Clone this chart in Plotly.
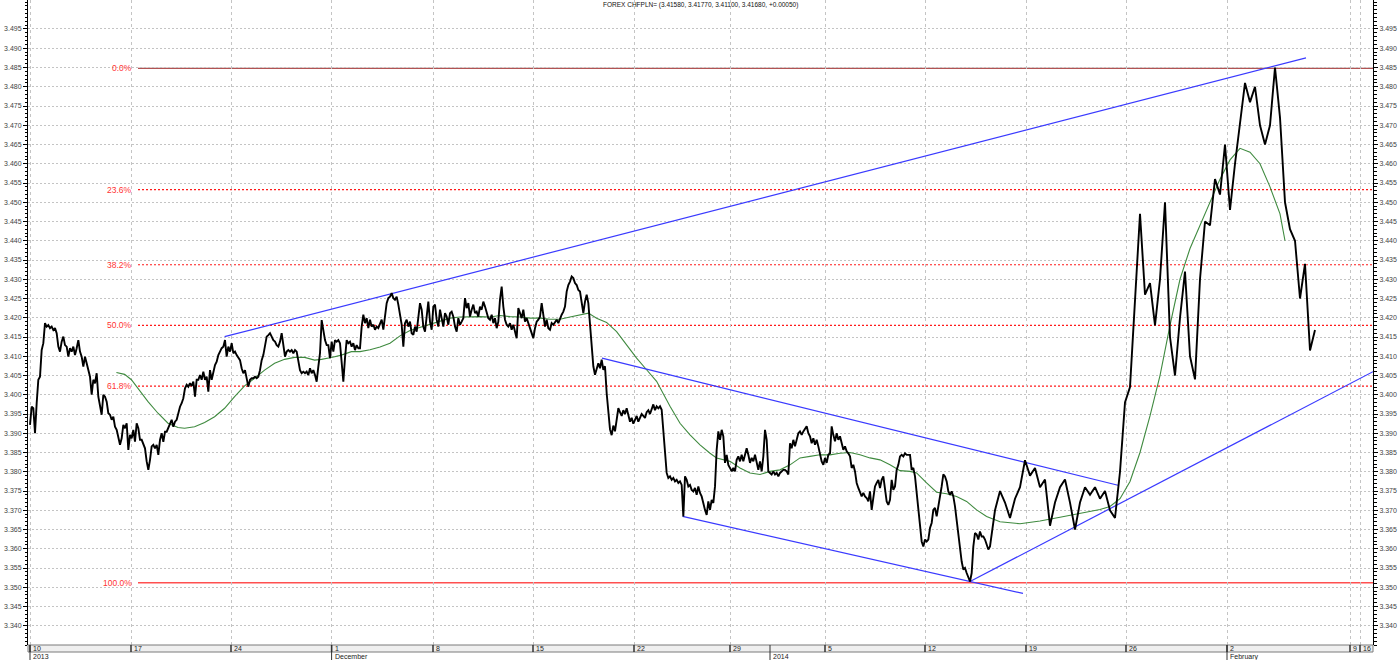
import plotly.graph_objects as go

# ---------------- data ----------------
STEP = 1 / 12  # trading days between samples
seg_a = [
    3.3922, 3.3969, 3.3965, 3.3900, 3.3978, 3.4039, 3.4047, 3.4116, 3.4134, 3.4186,
    3.4177, 3.4181, 3.4173, 3.4177, 3.4168, 3.4173, 3.4160, 3.4125, 3.4112, 3.4138,
    3.4151, 3.4129, 3.4125, 3.4099, 3.4121, 3.4112, 3.4125, 3.4103, 3.4121, 3.4142,
    3.4112, 3.4099, 3.4073, 3.4099, 3.4082, 3.4064, 3.4047, 3.4000, 3.4039, 3.4030,
    3.4056, 3.3995, 3.3974, 3.3948, 3.4000, 3.3995, 3.3982, 3.3952, 3.3948, 3.3935,
    3.3943, 3.3917, 3.3909, 3.3891, 3.3870, 3.3887, 3.3922, 3.3913, 3.3926, 3.3857,
    3.3896, 3.3887, 3.3909, 3.3878, 3.3926, 3.3913, 3.3883, 3.3883, 3.3870, 3.3861,
    3.3827, 3.3805, 3.3831, 3.3866, 3.3870, 3.3861, 3.3870, 3.3844, 3.3883, 3.3900,
    3.3878, 3.3904, 3.3904, 3.3913, 3.3926, 3.3935, 3.3917, 3.3930, 3.3935, 3.3952,
    3.3969, 3.3978, 3.3991, 3.4017, 3.4026, 3.4021, 3.4030, 3.4023, 3.4034, 3.3995,
    3.4039, 3.4039, 3.4051, 3.4039, 3.4060, 3.4039, 3.4047, 3.4008, 3.4064, 3.4039,
    3.4056, 3.4077, 3.4086, 3.4103, 3.4112, 3.4121, 3.4125, 3.4142, 3.4099, 3.4125,
    3.4112, 3.4134, 3.4108, 3.4112, 3.4103, 3.4095, 3.4090, 3.4069, 3.4056, 3.4064,
    3.4039, 3.4021, 3.4039, 3.4043, 3.4043, 3.4047, 3.4043, 3.4047, 3.4064, 3.4090,
    3.4103, 3.4134, 3.4151, 3.4155, 3.4160, 3.4151, 3.4142, 3.4138, 3.4129, 3.4125,
    3.4138, 3.4160, 3.4125, 3.4099, 3.4112, 3.4116, 3.4112, 3.4116, 3.4108, 3.4116,
    3.4112, 3.4082, 3.4064, 3.4056, 3.4060, 3.4056, 3.4060, 3.4051, 3.4069, 3.4056,
    3.4064, 3.4051, 3.4034, 3.4073, 3.4108, 3.4194, 3.4164, 3.4142, 3.4129, 3.4129,
    3.4095, 3.4138, 3.4112, 3.4142, 3.4138, 3.4142, 3.4134, 3.4073, 3.4034, 3.4095,
    3.4142, 3.4134, 3.4138, 3.4125, 3.4134, 3.4116, 3.4129, 3.4121,
]
seg_b = [
    3.4121, 3.4177, 3.4208, 3.4186, 3.4199, 3.4173, 3.4195, 3.4177, 3.4182, 3.4169,
    3.4177, 3.4173, 3.4182, 3.4195, 3.4169, 3.4208, 3.4238, 3.4251, 3.4255, 3.4264,
    3.4251, 3.4247, 3.4255, 3.4234, 3.4203, 3.4182, 3.4125, 3.4186, 3.4195, 3.4177,
    3.4190, 3.4160, 3.4156, 3.4177, 3.4164, 3.4203, 3.4238, 3.4221, 3.4177, 3.4164,
    3.4212, 3.4242, 3.4190, 3.4169, 3.4229, 3.4234, 3.4195, 3.4177, 3.4221, 3.4199,
    3.4177, 3.4212, 3.4203, 3.4182, 3.4212, 3.4216, 3.4203, 3.4177, 3.4164, 3.4199,
    3.4182, 3.4190, 3.4199, 3.4251, 3.4225, 3.4238, 3.4203, 3.4221, 3.4234, 3.4212,
    3.4216, 3.4203, 3.4229, 3.4221, 3.4242, 3.4229, 3.4212, 3.4199, 3.4195, 3.4208,
    3.4186, 3.4199, 3.4173, 3.4190, 3.4247, 3.4281, 3.4229, 3.4195, 3.4182, 3.4177,
    3.4186, 3.4169, 3.4182, 3.4164, 3.4147, 3.4225, 3.4212, 3.4199, 3.4221, 3.4190,
    3.4199, 3.4186, 3.4169, 3.4160, 3.4147, 3.4173, 3.4190, 3.4195, 3.4203, 3.4238,
    3.4208, 3.4177, 3.4195, 3.4173, 3.4169, 3.4186, 3.4182, 3.4190, 3.4195, 3.4186,
    3.4199, 3.4208, 3.4216, 3.4229, 3.4268, 3.4285, 3.4294, 3.4307, 3.4303, 3.4290,
    3.4285, 3.4272, 3.4268, 3.4242, 3.4212, 3.4242, 3.4260, 3.4238, 3.4177, 3.4125,
    3.4074, 3.4052, 3.4065, 3.4082, 3.4069, 3.4091, 3.4065, 3.4074, 3.4004,
]
seg_c = [
    3.3960, 3.3910, 3.3895, 3.3920, 3.3905, 3.3935, 3.3965, 3.3955, 3.3945, 3.3960,
    3.3950, 3.3965, 3.3945, 3.3930, 3.3940, 3.3925, 3.3935, 3.3945, 3.3930, 3.3940,
    3.3950, 3.3945, 3.3940, 3.3955, 3.3960, 3.3950, 3.3965, 3.3975, 3.3960, 3.3970,
    3.3965, 3.3970,
]
seg_d = [
    3.3961, 3.3909, 3.3848, 3.3797, 3.3784, 3.3788, 3.3779, 3.3784, 3.3775, 3.3779,
    3.3771, 3.3775, 3.3766, 3.3684, 3.3788, 3.3779, 3.3762, 3.3766, 3.3753, 3.3749,
    3.3758, 3.3740, 3.3762, 3.3745, 3.3736, 3.3714, 3.3701, 3.3688, 3.3723, 3.3701,
    3.3727, 3.3719, 3.3762, 3.3857, 3.3905, 3.3883, 3.3909, 3.3892, 3.3823, 3.3844,
    3.3818, 3.3810, 3.3801, 3.3810, 3.3801, 3.3831, 3.3840, 3.3827, 3.3844, 3.3827,
    3.3848, 3.3861, 3.3844, 3.3823, 3.3836, 3.3827, 3.3844, 3.3823, 3.3805, 3.3827,
    3.3801, 3.3840, 3.3909, 3.3883, 3.3801, 3.3797, 3.3793, 3.3801, 3.3793, 3.3797,
    3.3788, 3.3797, 3.3801, 3.3805, 3.3805, 3.3801, 3.3793, 3.3874, 3.3861, 3.3883,
    3.3866, 3.3887, 3.3900, 3.3905, 3.3896, 3.3905, 3.3913, 3.3918, 3.3900, 3.3892,
    3.3874, 3.3887, 3.3870, 3.3883, 3.3866, 3.3844, 3.3827, 3.3818, 3.3836, 3.3823,
    3.3844, 3.3848, 3.3918, 3.3896, 3.3879, 3.3900, 3.3883, 3.3892, 3.3874, 3.3857,
    3.3866, 3.3853, 3.3848, 3.3840, 3.3810, 3.3818, 3.3801, 3.3771, 3.3758, 3.3749,
    3.3736, 3.3745, 3.3736, 3.3732, 3.3723, 3.3749, 3.3701, 3.3732, 3.3762, 3.3771,
    3.3779, 3.3758, 3.3779, 3.3788, 3.3758, 3.3723, 3.3714, 3.3727, 3.3779, 3.3753,
    3.3762, 3.3805, 3.3818, 3.3840, 3.3844, 3.3840, 3.3848, 3.3844, 3.3844, 3.3844,
    3.3805, 3.3810, 3.3788, 3.3745, 3.3701, 3.3645, 3.3619, 3.3606, 3.3624, 3.3619,
    3.3624, 3.3654, 3.3667, 3.3701, 3.3706, 3.3684, 3.3706, 3.3736, 3.3762, 3.3793,
    3.3788, 3.3775, 3.3749, 3.3740, 3.3749, 3.3736, 3.3710, 3.3671, 3.3628, 3.3589,
    3.3567, 3.3546, 3.3550, 3.3537, 3.3524, 3.3515, 3.3537, 3.3606, 3.3641, 3.3637,
    3.3624, 3.3645, 3.3632, 3.3632, 3.3624, 3.3611, 3.3598, 3.3606,
]
TAIL_START = 48.25
TAIL_STEP = 0.25
tail_price = [
    3.3700, 3.3750, 3.3720, 3.3680, 3.3730, 3.3760, 3.3830, 3.3790, 3.3810, 3.3760,
    3.3780, 3.3660, 3.3720, 3.3760, 3.3780, 3.3720, 3.3650, 3.3720, 3.3760, 3.3740,
    3.3760, 3.3730, 3.3750, 3.3700, 3.3680, 3.3800, 3.3980, 3.4020,
    3.4250, 3.4470, 3.4260, 3.4290, 3.4180, 3.4300, 3.4500, 3.4150, 3.4050, 3.4200,
    3.4320, 3.4100, 3.4040, 3.4300, 3.4450, 3.4440, 3.4560, 3.4520, 3.4650, 3.4480,
    3.4600, 3.4700, 3.4810, 3.4760, 3.4800, 3.4700, 3.4650, 3.4700, 3.4850, 3.4720,
    3.4500, 3.4430, 3.4400, 3.4250, 3.4340, 3.4115, 3.4168,
]

ma_days = [
    4.32, 4.73, 5.07, 5.4, 5.9, 6.4, 6.9, 7.4, 7.73, 8.23, 8.73, 9.23, 9.73, 10.23,
    10.73, 11.23, 11.73, 12.23, 12.73, 13.23, 13.73, 14.23, 14.57, 15.07, 15.57,
    16.07, 16.5, 17, 17.5, 18, 18.5, 19, 19.5, 20, 20.5, 21, 21.5, 22, 22.5, 23,
    23.5, 24, 24.5, 25, 25.5, 26, 26.5, 27, 27.5, 27.92, 28.33, 28.83, 29.33,
    29.83, 30.33, 30.83, 31.33, 32, 32.5, 33, 33.5, 34, 34.33, 35, 35.5, 36, 36.5,
    37, 37.5, 38, 38.5, 39, 39.5, 40, 40.5, 41, 41.5, 42, 42.5, 43, 43.5, 44,
    44.33, 44.83, 45.33, 45.83, 46.33, 46.83, 47.33, 47.83, 48.5, 49.5, 50.5,
    51.5, 52.5, 53.5, 54, 54.5, 55, 55.5, 56, 56.5, 57, 57.5, 58, 58.5, 59, 59.5,
    60, 60.5, 61, 61.5, 62, 62.5, 62.75,
]
ma_vals = [
    3.4058, 3.4053, 3.4039, 3.4017, 3.3982, 3.3952, 3.3926, 3.3915, 3.3913, 3.3917,
    3.3928, 3.3943, 3.3965, 3.3995, 3.4023, 3.4043, 3.4064, 3.4082, 3.4092, 3.4097,
    3.4097, 3.4090, 3.4092, 3.4097, 3.4103, 3.4112, 3.4112, 3.4117, 3.4124, 3.4134,
    3.4153, 3.4167, 3.4175, 3.4182, 3.4190, 3.4199, 3.4202, 3.4203, 3.4203, 3.4202,
    3.4206, 3.4203, 3.4202, 3.4199, 3.4199, 3.4196, 3.4196, 3.4202, 3.4208, 3.4212,
    3.4199, 3.4188, 3.4164, 3.4130, 3.4095, 3.4065, 3.4035, 3.3970, 3.3926, 3.3896,
    3.3870, 3.3848, 3.3836, 3.3827, 3.3810, 3.3797, 3.3793, 3.3801, 3.3805, 3.3818,
    3.3836, 3.3840, 3.3844, 3.3844, 3.3848, 3.3850, 3.3844, 3.3836, 3.3831, 3.3818,
    3.3803, 3.3801, 3.3797, 3.3771, 3.3747, 3.3743, 3.3736, 3.3723, 3.3701, 3.3684,
    3.3670, 3.3665, 3.3672, 3.3682, 3.3692, 3.3702, 3.3710, 3.3730, 3.3775, 3.3850,
    3.3945, 3.4050, 3.4180, 3.4300, 3.4380, 3.4440, 3.4500, 3.4560, 3.4610, 3.4640,
    3.4630, 3.4600, 3.4540, 3.4470, 3.4400,
]

# trend lines: (start day, start price) -> (end day, end price)
trend_start_day = [9.73, 28.6, 32.63, 47.0]
trend_start_val = [3.4151, 3.4095, 3.3684, 3.3515]
trend_end_day = [63.8, 54.4, 49.65, 67.15]
trend_end_val = [3.4875, 3.3765, 3.3484, 3.4060]

fib_high = 3.4848
fib_low = 3.3512
fib_ratios = [0.0, 0.236, 0.382, 0.5, 0.618, 1.0]
fib_labels = ["0.0%", "23.6%", "38.2%", "50.0%", "61.8%", "100.0%"]
fib_start_day = 5.4

week_ticks = [0, 5.05, 10.05, 15.08, 20.15, 25.15, 30.2, 35.0, 39.75, 44.75,
              49.8, 54.8, 59.85, 66.0, 66.5]
week_labels = ["10", "17", "24", "1", "8", "15", "22", "29", "5", "12",
               "19", "26", "2", "9", "16"]
period_ticks = [0, 15.08, 37.0, 59.85]
period_labels = ["2013", "December", "2014", "February"]

y_ticks = [round(3.340 + 0.005 * i, 3) for i in range(32)]
X_RANGE = [-0.1, 67.15]
Y_RANGE = [3.33501, 3.50253]
TITLE = "FOREX CHFPLN= (3.41580, 3.41770, 3.41100, 3.41680, +0.00050)"

# ---------------- figure ----------------
W, H = 1400, 660
ML, MR, MT, MB = 28, 27, 0, 15
FONT = "Liberation Sans"

price = seg_a + seg_b + seg_c + seg_d
days = [i * STEP for i in range(len(price))]
tail_days = [TAIL_START + i * TAIL_STEP for i in range(len(tail_price))]


def ypix(px):
    return (H - MB - px) / (H - MT - MB)


def xpaper(d):
    return (d - X_RANGE[0]) / (X_RANGE[1] - X_RANGE[0])


fig = go.Figure()
shapes = []
annotations = []

# fibonacci levels
fib_styles = [
    dict(color="#9a2020", width=1, dash="solid"),
    dict(color="#ff1a1a", width=1.2, dash="2px,2px"),
    dict(color="#ff1a1a", width=1.2, dash="2px,2px"),
    dict(color="#ff1a1a", width=1.2, dash="2px,2px"),
    dict(color="#ff1a1a", width=1.2, dash="2px,2px"),
    dict(color="#ff5050", width=1.5, dash="solid"),
]
for r, lab, st in zip(fib_ratios, fib_labels, fib_styles):
    lvl = fib_high - r * (fib_high - fib_low)
    shapes.append(dict(type="line", xref="x", yref="y", x0=fib_start_day, x1=X_RANGE[1],
                       y0=lvl, y1=lvl, line=st, layer="below"))
    annotations.append(dict(x=fib_start_day - 0.2, y=lvl, xref="x", yref="y", text=lab,
                            showarrow=False, xanchor="right", yanchor="middle",
                            font=dict(family=FONT, size=8.5, color="#ff3333")))

# moving average
fig.add_trace(go.Scatter(x=ma_days, y=ma_vals, mode="lines",
                         line=dict(color="#3f8a3f", width=1.1), hoverinfo="skip"))

# trend lines
for x0, y0, x1, y1 in zip(trend_start_day, trend_start_val, trend_end_day, trend_end_val):
    fig.add_trace(go.Scatter(x=[x0, x1], y=[y0, y1], mode="lines",
                             line=dict(color="#3a3aff", width=1.2), hoverinfo="skip"))

# price
fig.add_trace(go.Scatter(x=days + tail_days, y=price + tail_price, mode="lines",
                         line=dict(color="#000000", width=1.9), hoverinfo="skip"))

# invisible trace so the right axis is drawn
fig.add_trace(go.Scatter(x=[days[0]], y=[price[0]], yaxis="y2", mode="markers",
                         marker=dict(opacity=0), hoverinfo="skip"))

# bottom date band
shapes.append(dict(type="rect", xref="paper", yref="paper", x0=0, x1=1,
                   y0=ypix(645), y1=ypix(652), fillcolor="#efefef",
                   line=dict(color="#7a7a7a", width=1)))
for t, lab in zip(week_ticks, week_labels):
    xp = xpaper(t)
    shapes.append(dict(type="line", xref="paper", yref="paper", x0=xp, x1=xp,
                       y0=ypix(645), y1=ypix(652), line=dict(color="#333333", width=1.5)))
    annotations.append(dict(x=xp, y=ypix(648.5), xref="paper", yref="paper", text=lab,
                            showarrow=False, xanchor="left", yanchor="middle", xshift=1,
                            font=dict(family=FONT, size=7, color="#222222")))
for t, lab in zip(period_ticks, period_labels):
    xp = xpaper(t)
    shapes.append(dict(type="line", xref="paper", yref="paper", x0=xp, x1=xp,
                       y0=ypix(645), y1=ypix(660), line=dict(color="#333333", width=1)))
    annotations.append(dict(x=xp, y=ypix(656.5), xref="paper", yref="paper", text=lab,
                            showarrow=False, xanchor="left", yanchor="middle", xshift=1,
                            font=dict(family=FONT, size=7, color="#222222")))

# title
annotations.append(dict(x=0.5, y=ypix(5), xref="paper", yref="paper", text=TITLE,
                        showarrow=False, xanchor="center", yanchor="middle",
                        font=dict(family=FONT, size=6.5, color="#111111")))

yaxis_common = dict(
    range=Y_RANGE, tickmode="array", tickvals=y_ticks,
    ticktext=[f"{v:.3f}" for v in y_ticks],
    ticks="outside", ticklen=4, tickcolor="#000000", tickwidth=1,
    showline=True, linecolor="#000000", linewidth=1,
    tickfont=dict(family=FONT, size=7, color="#444444"),
    zeroline=False, automargin=False, fixedrange=True,
    minor=dict(tickmode="linear", tick0=3.335, dtick=0.001, ticks="outside",
               ticklen=2.5, tickcolor="#000000", showgrid=False),
)

fig.update_layout(
    width=W, height=H,
    margin=dict(l=ML, r=MR, t=MT, b=MB, pad=0),
    paper_bgcolor="#ffffff", plot_bgcolor="#ffffff",
    showlegend=False, hovermode=False,
    xaxis=dict(range=X_RANGE, tickmode="array", tickvals=week_ticks,
               showticklabels=False, ticks="", showgrid=True, gridcolor="#c4c4c4",
               griddash="3px,3px", gridwidth=1, zeroline=False, showline=False,
               automargin=False, fixedrange=True),
    yaxis=dict(**yaxis_common, side="left", showgrid=True, gridcolor="#c4c4c4",
               griddash="2px,2px", gridwidth=1),
    yaxis2=dict(**yaxis_common, side="right", overlaying="y", matches="y", showgrid=False),
    shapes=shapes,
    annotations=annotations,
)

fig.write_html(
    "out.html",
    config={"displayModeBar": False, "staticPlot": True},
    post_script="document.body.style.margin='0';document.body.style.overflow='hidden';",
)
